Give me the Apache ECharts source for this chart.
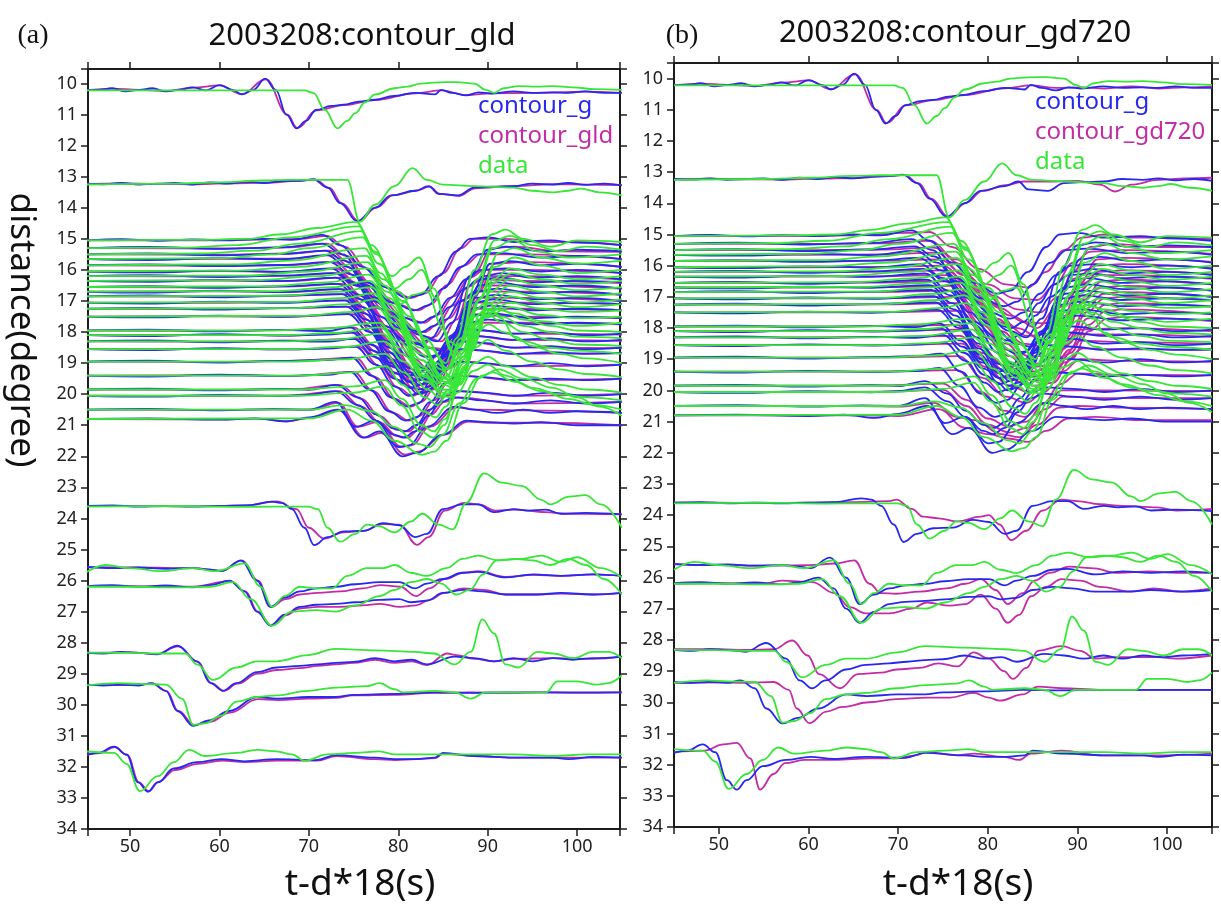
<!DOCTYPE html>
<html>
<head>
<meta charset="utf-8">
<title>2003208 contour comparison</title>
<script src="https://cdn.jsdelivr.net/npm/echarts@6/dist/echarts.min.js"></script>
<style>
  html, body { margin: 0; padding: 0; background: #fff; }
  #chart { width: 1221px; height: 904px; }
</style>
</head>
<body>
<div id="chart"></div>
<script>
// station distance (degree) of every trace, top to bottom
const stations = [10.25, 13.25,
  15.05, 15.3, 15.5, 15.65, 15.85, 16.05, 16.2, 16.35, 16.55, 16.7, 16.85, 17.05,
  17.25, 17.5, 17.95, 18.1, 18.3, 18.55, 18.95, 19.4, 19.85, 20.05, 20.5, 20.8,
  23.6, 25.6, 26.2, 28.3, 29.4, 31.6];

const xTicks = [50, 60, 70, 80, 90, 100];

// contour_g synthetics (blue), same in both panels; points are [t-d*18, distance]
const contourG = [
  [[45,10.21],[46.5,10.2],[48,10.15],[49.5,10.25],[51,10.2],[52.5,10.15],[54,10.25],[55.5,10.2],[57,10.12],[58.5,10.22],[60,10.05],[61.5,10.2],[62.5,10.35],[63.8,10.2],[65.1,9.84],[66.3,10.2],[67.5,11.0],[68.6,11.44],[69.7,11.2],[70.8,10.85],[72.5,10.72],[73.9,10.68],[75.6,10.58],[77.4,10.52],[79.5,10.4],[81.9,10.3],[84.1,10.35],[84.8,10.2],[86,10.3],[87.6,10.38],[89,10.28],[90.5,10.32],[92.9,10.25],[95,10.3],[97.3,10.28],[99,10.3],[100.9,10.25],[103,10.3],[105,10.3]],
  [[45,13.22],[47,13.24],[49,13.2],[51,13.25],[53,13.22],[55,13.2],[57,13.25],[59,13.18],[61,13.22],[63,13.16],[65,13.2],[67,13.14],[69,13.13],[70.5,13.08],[72.1,13.35],[73.5,13.85],[75.4,14.43],[77.4,14.0],[79.2,13.6],[81.9,13.45],[83.4,13.3],[84.5,13.55],[86.7,13.6],[88.5,13.35],[90.5,13.32],[92.9,13.3],[95,13.22],[97.3,13.25],[99,13.2],[101,13.26],[103,13.22],[105,13.28]],
  [[45,15.05],[49,15.01],[53,15.06],[57,15.02],[61,15.05],[65,15.0],[68,15.03],[71.5,14.87],[73.5,15.2],[76,15.9],[78.5,16.55],[81,16.9],[82.5,16.8],[84.5,16.2],[86.5,15.4],[88,15.0],[90,14.95],[93,15.1],[97,15.05],[100,15.12],[105,15.2]],
  [[45,15.3],[52,15.26],[60,15.32],[67,15.27],[71.5,15.15],[73.8,15.5],[76.5,16.5],[79.5,17.5],[82.5,18.1],[84.3,18.3],[86,17.7],[88,16.2],[90,15.35],[92,15.25],[96,15.4],[100,15.35],[105,15.4]],
  [[45,15.5],[52,15.47],[60,15.53],[67,15.48],[71.8,15.38],[74,15.7],[76.5,16.4],[79.3,17.05],[81.8,17.3],[83.3,17.15],[85,16.6],[87,15.9],[88.8,15.5],[91,15.45],[96,15.6],[100,15.55],[105,15.65]],
  [[45,15.65],[52,15.68],[60,15.62],[67,15.66],[72,15.52],[74.3,15.9],[77.3,17.0],[80.3,17.9],[83.2,18.5],[84.8,18.6],[86.5,18.0],[88.5,16.8],[90.3,15.8],[92.5,15.72],[96,15.85],[100,15.8],[105,15.9]],
  [[45,15.85],[52,15.82],[60,15.88],[67,15.84],[72.3,15.75],[74.8,16.15],[77.5,16.9],[80.2,17.5],[82.5,17.7],[84,17.5],[85.8,16.9],[87.6,16.3],[89.3,16.0],[92,15.95],[96,16.05],[100,16.0],[105,16.1]],
  [[45,16.05],[52,16.08],[60,16.02],[67,16.06],[72.5,15.95],[75,16.4],[78,17.5],[80.8,18.4],[83,18.8],[84.3,18.75],[86,18.1],[88,17.0],[89.5,16.2],[91.5,16.1],[95,16.25],[100,16.2],[105,16.3]],
  [[45,16.2],[52,16.17],[60,16.23],[67,16.18],[72.8,16.1],[75.3,16.5],[78,17.25],[80.6,17.85],[82.6,18.0],[84,17.8],[85.7,17.2],[87.4,16.6],[89,16.3],[91.5,16.25],[95,16.4],[100,16.35],[105,16.4]],
  [[45,16.35],[52,16.38],[60,16.32],[67,16.36],[73,16.25],[75.6,16.8],[78.5,17.9],[81.2,18.8],[83,19.2],[84.2,19.1],[85.8,18.4],[87.6,17.2],[89,16.5],[91,16.4],[95,16.55],[100,16.5],[105,16.6]],
  [[45,16.55],[52,16.52],[60,16.58],[67,16.53],[73.2,16.45],[75.8,16.95],[78.5,17.8],[80.9,18.3],[82.3,18.4],[83.7,18.2],[85.3,17.6],[87,17.0],[88.6,16.7],[91,16.6],[95,16.75],[100,16.7],[105,16.8]],
  [[45,16.7],[52,16.73],[60,16.67],[67,16.71],[73.5,16.62],[76,17.2],[78.8,18.3],[81.2,19.15],[82.6,19.45],[83.8,19.35],[85.4,18.7],[87.2,17.6],[88.6,16.9],[90.8,16.8],[95,16.95],[100,16.9],[105,17.0]],
  [[45,16.85],[52,16.82],[60,16.88],[67,16.83],[73.7,16.78],[76.2,17.4],[79,18.5],[81.3,19.3],[82.5,19.55],[83.7,19.45],[85.2,18.8],[87,17.8],[88.4,17.05],[90.6,16.95],[95,17.1],[100,17.05],[105,17.1]],
  [[45,17.05],[52,17.08],[60,17.02],[67,17.06],[74,16.98],[76.4,17.6],[79,18.65],[81.3,19.45],[82.4,19.7],[83.6,19.6],[85,19.0],[86.8,18.0],[88.2,17.25],[90.4,17.15],[95,17.3],[100,17.25],[105,17.3]],
  [[45,17.25],[52,17.22],[60,17.28],[67,17.23],[74.2,17.18],[76.6,17.8],[79.1,18.85],[81.2,19.6],[82.3,19.85],[83.5,19.75],[84.9,19.15],[86.6,18.2],[88,17.45],[90.2,17.4],[95,17.55],[100,17.5],[105,17.55]],
  [[45,17.5],[52,17.53],[60,17.47],[67,17.51],[74.4,17.42],[76.8,18.0],[79.2,19.0],[81.1,19.75],[82.2,20.0],[83.4,19.9],[84.8,19.3],[86.4,18.4],[87.8,17.7],[90,17.6],[95,17.75],[100,17.7],[105,17.75]],
  [[45,17.95],[52,17.92],[60,17.98],[67,17.93],[72,17.97],[74.6,17.85],[77,18.4],[79.3,19.1],[81.2,19.4],[82.4,19.3],[84,18.8],[85.8,18.2],[87.2,17.9],[89.5,17.95],[93,18.05],[97,18.0],[101,18.1],[105,18.05]],
  [[45,18.1],[52,18.13],[60,18.07],[67,18.11],[72,18.08],[74.8,18.02],[77.2,18.6],[79.5,19.3],[81.3,19.6],[82.5,19.5],[84.1,19.0],[85.8,18.4],[87.2,18.1],[89.5,18.15],[93,18.25],[97,18.2],[101,18.3],[105,18.25]],
  [[45,18.3],[52,18.27],[60,18.33],[67,18.28],[72,18.31],[75,18.22],[77.4,18.8],[79.6,19.5],[81.3,19.8],[82.5,19.7],[84.1,19.2],[85.7,18.6],[87,18.3],[89.5,18.35],[93,18.5],[97,18.45],[101,18.55],[105,18.5]],
  [[45,18.55],[52,18.58],[60,18.52],[67,18.56],[72,18.53],[75.2,18.47],[77.5,19.05],[79.6,19.75],[81.2,20.05],[82.4,19.95],[84,19.45],[85.6,18.85],[86.9,18.55],[89.5,18.6],[93,18.7],[97,18.65],[101,18.7],[105,18.68]],
  [[45,18.95],[52,18.92],[60,18.98],[67,18.93],[72,18.9],[74.8,18.82],[77,19.4],[79.2,20.1],[81,20.4],[82.2,20.3],[83.8,19.8],[85.4,19.2],[86.8,18.95],[89.5,19.0],[93,19.1],[97,19.0],[101,19.1],[105,19.05]],
  [[45,19.4],[52,19.43],[60,19.37],[67,19.41],[72,19.38],[74.6,19.28],[76.8,19.85],[79,20.55],[80.8,20.85],[82,20.75],[83.6,20.25],[85.2,19.65],[86.6,19.4],[89.5,19.45],[93,19.55],[97,19.5],[101,19.55],[105,19.5]],
  [[45,19.85],[52,19.82],[60,19.88],[67,19.83],[70,19.86],[73,19.7],[75.5,20.1],[77.5,20.65],[79.5,21.1],[80.7,21.2],[82,21.0],[83.5,20.5],[85,20.05],[86.5,19.9],[89.5,19.95],[93,20.05],[97,19.95],[101,20.05],[105,20.0]],
  [[45,20.05],[52,20.08],[60,20.02],[67,20.06],[70,20.02],[73,19.9],[75.5,20.35],[77.5,20.85],[79.5,21.3],[80.6,21.4],[81.9,21.2],[83.3,20.7],[84.8,20.25],[86.3,20.1],[89.5,20.2],[93,20.3],[97,20.2],[101,20.3],[105,20.25]],
  [[45,20.5],[52,20.47],[60,20.52],[66,20.48],[70,20.5],[73,20.25],[75.2,21.05],[77.4,20.85],[80.1,21.7],[81.2,21.65],[83.2,21.05],[86.3,20.4],[88.5,20.5],[91,20.6],[94,20.5],[97,20.6],[100,20.55],[105,20.6]],
  [[45,20.8],[52,20.78],[60,20.82],[64,20.78],[67.5,20.88],[70,20.75],[73.2,20.5],[76.1,21.4],[77.9,21.2],[80.5,22.0],[82,21.9],[85,21.3],[87.6,20.85],[90,20.9],[93,20.95],[96,20.9],[100,21.0],[105,21.0]],
  [[45,23.6],[48,23.58],[51,23.62],[54,23.6],[57,23.62],[60,23.6],[63,23.58],[65.9,23.46],[67,23.5],[68.1,23.7],[69.5,24.3],[70.6,24.86],[72.1,24.6],[73.9,24.42],[76.1,24.4],[78.3,24.15],[80.1,24.22],[81.9,24.6],[83.2,24.5],[85,23.7],[87.2,23.55],[88.9,23.55],[90.7,23.8],[92.9,23.7],[94.5,23.75],[96.5,23.72],[98.2,23.85],[101,23.82],[105,23.87]],
  [[45,25.56],[48,25.6],[51,25.58],[54,25.62],[57,25.6],[59,25.65],[60.2,25.7],[62.4,25.36],[64.2,26.0],[65.7,26.85],[67.3,26.55],[69,26.35],[70.8,26.25],[73,26.2],[75.2,26.12],[77.9,26.05],[80.1,26.05],[81.9,26.25],[83.2,26.1],[85,25.95],[87.2,25.75],[88.9,25.72],[92,25.9],[95.1,25.8],[98.2,25.85],[101.8,25.8],[105,25.85]],
  [[45,26.18],[48,26.15],[51,26.2],[54,26.16],[57,26.22],[59,26.15],[61.1,26.0],[62.8,26.35],[64.2,27.0],[65.7,27.45],[67.3,27.1],[69,26.85],[70.8,26.78],[73,26.75],[75.2,26.7],[77.9,26.62],[80.1,26.6],[81.4,26.7],[83.2,26.65],[85,26.4],[87.2,26.3],[89.4,26.35],[92,26.45],[95.5,26.45],[98.2,26.4],[101.8,26.45],[105,26.4]],
  [[45,28.32],[47,28.35],[49,28.3],[51,28.33],[53,28.38],[55.3,28.1],[57.5,28.6],[59,29.3],[60.4,29.55],[61.9,29.3],[64.2,28.95],[66.4,28.8],[69,28.75],[71,28.7],[73,28.65],[75,28.62],[77.4,28.5],[79.6,28.6],[81.5,28.55],[83.2,28.7],[86.3,28.45],[88.5,28.5],[90.7,28.6],[92.9,28.5],[95,28.6],[97.3,28.5],[99.5,28.55],[101.8,28.5],[105,28.45]],
  [[45,29.35],[47,29.38],[49,29.35],[51,29.38],[52.4,29.3],[54,29.55],[55.3,30.2],[57.1,30.68],[58.8,30.5],[61.1,30.2],[64.2,29.75],[66.5,29.8],[69.9,29.75],[73,29.75],[75,29.68],[79.6,29.65],[84,29.6],[88,29.62],[92,29.6],[96,29.6],[100,29.6],[105,29.6]],
  [[45,31.62],[46.5,31.55],[48.2,31.35],[49.6,31.6],[50.9,32.5],[52,32.8],[53.1,32.5],[54.9,32.05],[57.5,31.85],[60.2,31.75],[62.8,31.82],[66.4,31.75],[70.8,31.78],[73,31.62],[77.4,31.7],[79.6,31.75],[82,31.75],[84.1,31.7],[85,31.55],[88.5,31.65],[92.9,31.7],[97.3,31.7],[99,31.75],[101.8,31.68],[105,31.7]]
];

// contour_gld synthetics (magenta, panel a)
const contourGld = [
  [[45,10.22],[48,10.16],[51,10.2],[54,10.24],[57,10.13],[60,10.06],[62.5,10.34],[65.2,9.86],[67.6,11.0],[68.7,11.43],[70.9,10.86],[73.9,10.69],[77.4,10.53],[81.9,10.31],[84.8,10.22],[87.6,10.37],[90.5,10.31],[95,10.3],[100.9,10.26],[105,10.3]],
  [[45,13.23],[49,13.21],[53,13.23],[57,13.24],[61,13.21],[65,13.19],[69,13.13],[70.7,13.09],[72.3,13.36],[73.7,13.86],[75.6,14.43],[77.6,13.98],[79.4,13.6],[82,13.45],[83.5,13.32],[84.7,13.55],[86.8,13.62],[88.6,13.37],[92.9,13.3],[97.3,13.24],[101,13.25],[105,13.27]],
  [[45,15.05],[55,15.05],[65,15.02],[69,15.0],[72,14.9],[74,15.25],[76.5,15.95],[79,16.6],[81.5,16.9],[83,16.75],[85,16.1],[87,15.3],[88.5,15.0],[92,15.0],[96,15.1],[100,15.1],[105,15.2]],
  [[45,15.3],[60,15.31],[68,15.27],[72,15.15],[74.2,15.55],[77,16.55],[80,17.55],[83,18.15],[84.8,18.3],[86.5,17.6],[88.5,16.1],[90.5,15.3],[93,15.25],[98,15.4],[105,15.42]],
  [[45,15.5],[60,15.51],[68,15.47],[72.3,15.38],[74.5,15.75],[77,16.45],[79.8,17.1],[82.2,17.3],[83.7,17.1],[85.4,16.5],[87.4,15.85],[89.2,15.5],[94,15.5],[105,15.65]],
  [[45,15.65],[60,15.64],[68,15.64],[72.5,15.52],[74.8,15.95],[77.8,17.05],[80.8,17.95],[83.6,18.5],[85.2,18.55],[87,17.9],[89,16.7],[90.8,15.8],[94,15.75],[105,15.9]],
  [[45,15.85],[60,15.86],[68,15.84],[72.8,15.75],[75.3,16.2],[78,16.95],[80.7,17.55],[82.9,17.7],[84.4,17.45],[86.2,16.85],[88,16.25],[89.7,16.0],[94,16.0],[105,16.1]],
  [[45,16.05],[60,16.04],[68,16.06],[73,15.95],[75.5,16.45],[78.5,17.55],[81.3,18.45],[83.4,18.8],[84.8,18.7],[86.5,18.0],[88.5,16.9],[90,16.2],[94,16.2],[105,16.3]],
  [[45,16.2],[60,16.21],[68,16.18],[73.3,16.1],[75.8,16.55],[78.5,17.3],[81.1,17.9],[83,18.0],[84.4,17.75],[86.1,17.15],[87.8,16.55],[89.4,16.3],[94,16.35],[105,16.42]],
  [[45,16.35],[60,16.34],[68,16.36],[73.5,16.25],[76,16.85],[79,17.95],[81.7,18.85],[83.4,19.2],[84.7,19.05],[86.3,18.3],[88,17.1],[89.5,16.5],[94,16.5],[105,16.6]],
  [[45,16.55],[60,16.56],[68,16.53],[73.7,16.45],[76.3,17.0],[79,17.85],[81.3,18.3],[82.7,18.4],[84.1,18.15],[85.7,17.55],[87.4,16.95],[89,16.7],[94,16.7],[105,16.8]],
  [[45,16.7],[60,16.69],[68,16.71],[74,16.62],[76.5,17.25],[79.3,18.35],[81.7,19.2],[83,19.45],[84.3,19.3],[85.9,18.6],[87.6,17.5],[89.1,16.9],[94,16.9],[105,17.0]],
  [[45,16.85],[60,16.86],[68,16.83],[74.2,16.78],[76.7,17.45],[79.5,18.55],[81.8,19.35],[82.9,19.55],[84.2,19.4],[85.7,18.7],[87.4,17.7],[88.9,17.05],[94,17.05],[105,17.1]],
  [[45,17.05],[60,17.06],[68,17.03],[74.5,16.98],[76.9,17.65],[79.5,18.7],[81.8,19.5],[82.8,19.7],[84.1,19.55],[85.5,18.9],[87.2,17.9],[88.7,17.25],[94,17.25],[105,17.3]],
  [[45,17.25],[60,17.26],[68,17.23],[74.7,17.18],[77.1,17.85],[79.6,18.9],[81.7,19.65],[82.7,19.85],[84,19.7],[85.4,19.05],[87,18.1],[88.5,17.45],[94,17.5],[105,17.55]],
  [[45,17.5],[60,17.49],[68,17.51],[74.9,17.42],[77.3,18.05],[79.7,19.05],[81.6,19.8],[82.6,20.0],[83.9,19.85],[85.3,19.2],[86.8,18.3],[88.3,17.7],[94,17.7],[105,17.75]],
  [[45,17.95],[60,17.96],[68,17.93],[75,17.85],[77.4,18.45],[79.7,19.15],[81.6,19.4],[82.8,19.25],[84.4,18.75],[86.2,18.15],[87.6,17.9],[93,18.05],[105,18.08]],
  [[45,18.1],[60,18.09],[68,18.11],[75.2,18.02],[77.6,18.65],[79.9,19.35],[81.7,19.6],[82.9,19.45],[84.5,18.95],[86.2,18.35],[87.6,18.1],[93,18.25],[105,18.28]],
  [[45,18.3],[60,18.31],[68,18.28],[75.4,18.22],[77.8,18.85],[80,19.55],[81.7,19.8],[82.9,19.65],[84.5,19.15],[86.1,18.55],[87.4,18.3],[93,18.5],[105,18.52]],
  [[45,18.55],[60,18.54],[68,18.56],[75.6,18.47],[77.9,19.1],[80,19.8],[81.6,20.05],[82.8,19.9],[84.4,19.4],[86,18.8],[87.3,18.55],[93,18.7],[105,18.68]],
  [[45,18.95],[60,18.96],[68,18.93],[75.2,18.82],[77.4,19.45],[79.6,20.15],[81.4,20.4],[82.6,20.25],[84.2,19.75],[85.8,19.15],[87.2,18.95],[93,19.1],[105,19.05]],
  [[45,19.4],[60,19.39],[68,19.41],[75,19.28],[77.2,19.9],[79.4,20.6],[81.2,20.85],[82.4,20.7],[84,20.2],[85.6,19.6],[87,19.4],[93,19.55],[105,19.5]],
  [[45,19.85],[60,19.86],[68,19.84],[73.4,19.7],[75.9,20.15],[77.9,20.7],[79.9,21.15],[81.1,21.2],[82.4,20.95],[83.9,20.45],[85.4,20.05],[87,19.9],[93,20.05],[105,20.0]],
  [[45,20.05],[60,20.06],[68,20.04],[73.4,19.9],[75.9,20.4],[77.9,20.9],[79.9,21.35],[81,21.4],[82.3,21.15],[83.7,20.65],[85.2,20.25],[86.7,20.1],[93,20.3],[105,20.25]],
  [[45,20.5],[60,20.51],[66,20.49],[70.2,20.5],[73.3,20.28],[75.5,21.05],[77.7,20.9],[80.4,21.7],[81.5,21.65],[83.5,21.05],[86.6,20.42],[88.8,20.5],[94,20.52],[105,20.6]],
  [[45,20.8],[60,20.81],[64,20.79],[67.7,20.87],[70.2,20.76],[73.4,20.52],[76.3,21.4],[78.1,21.25],[80.8,21.95],[82.2,21.85],[85.2,21.3],[87.8,20.88],[90,20.92],[96,20.92],[105,21.0]],
  [[45,23.6],[50,23.6],[55,23.61],[60,23.6],[63,23.58],[66.4,23.45],[68.6,23.7],[70,24.3],[71.7,24.65],[73.9,24.45],[76.1,24.4],[78.3,24.18],[80.1,24.2],[82.1,24.85],[83.4,24.6],[85.2,23.75],[87.4,23.5],[89,23.55],[90.9,23.75],[93,23.72],[96.5,23.8],[98.5,23.85],[101,23.85],[105,23.87]],
  [[45,25.57],[51,25.58],[57,25.6],[60.3,25.68],[62.5,25.35],[64.3,26.0],[65.8,26.85],[67.4,26.6],[69,26.45],[71,26.4],[73.5,26.35],[76,26.25],[78,26.15],[80.2,26.2],[82,26.5],[83.5,26.25],[85.2,25.95],[87.3,25.75],[89,25.7],[92,25.88],[95.1,25.82],[98.2,25.85],[101.8,25.8],[105,25.85]],
  [[45,26.18],[51,26.19],[57,26.2],[61.2,26.02],[62.9,26.35],[64.3,27.0],[65.8,27.45],[67.4,27.12],[69,26.9],[71,26.85],[73.5,26.85],[76,26.8],[78,26.75],[80.2,26.85],[82,26.8],[83.5,26.62],[85.2,26.4],[87.3,26.25],[89.5,26.3],[92,26.45],[95.5,26.45],[98.2,26.42],[101.8,26.45],[105,26.4]],
  [[45,28.33],[50,28.31],[53,28.37],[55.4,28.12],[57.6,28.62],[59.1,29.3],[60.5,29.55],[62,29.32],[64.3,29.0],[66.4,28.88],[69,28.82],[71,28.75],[73,28.7],[75,28.65],[77.4,28.55],[79.6,28.65],[81.5,28.6],[83.2,28.72],[85.5,28.35],[86.5,28.4],[88.5,28.52],[90.7,28.6],[93,28.52],[97.3,28.5],[101.8,28.52],[105,28.45]],
  [[45,29.36],[48,29.37],[51,29.36],[52.5,29.31],[54.1,29.56],[55.4,30.2],[57.2,30.65],[58.9,30.55],[61.2,30.25],[64.3,29.82],[66.6,29.85],[70,29.8],[73,29.78],[75,29.7],[79.6,29.68],[84,29.62],[88,29.6],[92,29.62],[96,29.6],[100,29.62],[105,29.6]],
  [[45,31.62],[46.6,31.56],[48.3,31.36],[49.7,31.62],[51,32.5],[52.1,32.78],[53.2,32.48],[55,32.1],[57.6,31.9],[60.3,31.8],[62.9,31.85],[66.5,31.8],[70.9,31.8],[73.1,31.65],[77.4,31.75],[79.7,31.78],[82,31.75],[84.1,31.72],[85,31.58],[88.5,31.65],[92.9,31.7],[97.3,31.7],[101.8,31.7],[105,31.7]]
];

// contour_gd720 synthetics (magenta, panel b)
const contourGd720 = [
  [[45,10.22],[48,10.16],[51,10.2],[54,10.24],[57,10.13],[60,10.06],[62.5,10.34],[65.2,9.86],[67.6,11.0],[68.7,11.43],[70.9,10.86],[73.9,10.69],[77.4,10.53],[81.9,10.31],[84.8,10.22],[87.6,10.3],[90.5,10.28],[93,10.32],[96,10.25],[99,10.32],[102,10.28],[105,10.25]],
  [[45,13.23],[49,13.21],[53,13.23],[57,13.24],[61,13.21],[65,13.19],[69,13.13],[70.7,13.09],[72.3,13.36],[73.7,13.86],[75.6,14.43],[77.6,13.98],[79.4,13.6],[82,13.42],[84,13.3],[87.4,13.3],[90,13.28],[92.5,13.4],[94.2,13.62],[96,13.4],[99,13.25],[102,13.2],[105,13.18]],
  [[45,15.05],[55,15.05],[65,15.03],[71,14.95],[73.5,14.92],[76,15.4],[79,16.1],[82,16.6],[84.5,16.7],[86.5,16.2],[88.5,15.5],[90.5,15.1],[93,15.0],[96,15.1],[100,15.1],[105,15.15]],
  [[45,15.3],[60,15.3],[68,15.28],[73.5,15.2],[76.5,15.8],[79.5,16.8],[82.5,17.6],[85.5,18.0],[87.5,17.4],[89.5,16.2],[91.5,15.4],[94,15.3],[99,15.4],[105,15.4]],
  [[45,15.5],[60,15.5],[68,15.48],[74,15.42],[77,15.95],[80,16.6],[83,17.05],[85.5,17.1],[87.5,16.6],[89.5,15.9],[91.5,15.55],[95,15.5],[105,15.62]],
  [[45,15.65],[60,15.65],[68,15.64],[74.3,15.58],[77.3,16.3],[80.3,17.2],[83.3,18.0],[86.2,18.4],[88.2,17.8],[90.2,16.6],[92.2,15.8],[95,15.75],[105,15.88]],
  [[45,15.85],[60,15.85],[68,15.84],[74.6,15.8],[77.5,16.3],[80.5,16.95],[83.3,17.4],[85.8,17.5],[87.8,17.0],[89.8,16.4],[92,16.0],[95,15.95],[105,16.08]],
  [[45,16.05],[60,16.05],[68,16.04],[75,16.0],[78,16.7],[81,17.7],[84,18.5],[86.3,18.6],[88.3,17.9],[90.3,16.8],[92.3,16.2],[95,16.15],[105,16.28]],
  [[45,16.2],[60,16.2],[68,16.19],[75.3,16.15],[78.3,16.7],[81.3,17.35],[84,17.8],[86.3,17.85],[88.3,17.3],[90.3,16.6],[92.5,16.3],[95,16.3],[105,16.42]],
  [[45,16.35],[60,16.35],[68,16.34],[75.5,16.3],[78.5,17.1],[81.5,18.1],[84.5,18.9],[86.7,18.9],[88.7,18.1],[90.7,17.1],[92.7,16.5],[95,16.45],[105,16.6]],
  [[45,16.55],[60,16.55],[68,16.54],[75.8,16.5],[78.8,17.15],[81.8,17.85],[84.4,18.25],[86.6,18.2],[88.6,17.6],[90.6,16.95],[92.8,16.7],[95,16.65],[105,16.8]],
  [[45,16.7],[60,16.7],[68,16.69],[76,16.65],[79,17.5],[82,18.5],[84.7,19.25],[86.9,19.2],[88.9,18.4],[90.9,17.4],[92.9,16.9],[95,16.85],[105,17.0]],
  [[45,16.85],[60,16.85],[68,16.84],[76.2,16.8],[79.2,17.7],[82.2,18.7],[84.8,19.4],[87,19.3],[89,18.5],[91,17.5],[93,17.05],[95,17.0],[105,17.12]],
  [[45,17.05],[60,17.05],[68,17.04],[76.4,17.0],[79.4,17.9],[82.4,18.9],[84.9,19.55],[87.1,19.45],[89.1,18.7],[91.1,17.7],[93.1,17.25],[95,17.2],[105,17.32]],
  [[45,17.25],[60,17.25],[68,17.24],[76.6,17.2],[79.6,18.1],[82.6,19.1],[85,19.7],[87.2,19.6],[89.2,18.8],[91.2,17.9],[93.2,17.45],[95,17.4],[105,17.55]],
  [[45,17.5],[60,17.5],[68,17.49],[76.8,17.45],[79.8,18.3],[82.8,19.3],[85.1,19.85],[87.3,19.75],[89.3,19.0],[91.3,18.1],[93.3,17.7],[95,17.65],[105,17.78]],
  [[45,17.95],[60,17.95],[68,17.94],[76.5,17.9],[79.2,18.6],[81.8,19.2],[84,19.4],[86,19.1],[88,18.5],[90,18.05],[95,18.0],[105,18.1]],
  [[45,18.1],[60,18.1],[68,18.09],[76.7,18.05],[79.4,18.8],[82,19.4],[84.2,19.6],[86.2,19.3],[88.2,18.7],[90.2,18.2],[95,18.2],[105,18.28]],
  [[45,18.3],[60,18.3],[68,18.29],[76.9,18.25],[79.6,19.0],[82.2,19.6],[84.4,19.8],[86.4,19.5],[88.4,18.9],[90.4,18.4],[95,18.45],[105,18.5]],
  [[45,18.55],[60,18.55],[68,18.54],[77.1,18.5],[79.8,19.25],[82.4,19.85],[84.6,20.05],[86.6,19.7],[88.6,19.1],[90.6,18.65],[95,18.68],[105,18.7]],
  [[45,18.95],[60,18.95],[68,18.94],[76.8,18.9],[79.4,19.6],[82,20.2],[84.3,20.4],[86.3,20.05],[88.3,19.4],[90.3,19.0],[95,19.05],[105,19.08]],
  [[45,19.4],[60,19.4],[68,19.39],[76.6,19.35],[79.2,20.05],[81.8,20.65],[84.1,20.85],[86.1,20.45],[88.1,19.8],[90.1,19.45],[95,19.5],[105,19.52]],
  [[45,19.85],[60,19.85],[68,19.84],[75,19.78],[77.6,20.3],[80,20.9],[82.3,21.15],[84.3,21.0],[86.3,20.4],[88.3,20.0],[93,20.0],[105,20.02]],
  [[45,20.05],[60,20.05],[68,20.04],[75,19.98],[77.6,20.5],[80,21.1],[82.4,21.35],[84.4,21.2],[86.4,20.6],[88.4,20.2],[93,20.25],[105,20.25]],
  [[45,20.5],[60,20.5],[66,20.5],[70,20.52],[74,20.4],[76.5,20.85],[78.5,20.95],[81.5,21.4],[83.5,21.5],[85.5,21.1],[88,20.55],[90,20.5],[95,20.55],[105,20.6]],
  [[45,20.8],[60,20.8],[66,20.8],[70,20.82],[74.5,20.6],[77.5,21.2],[80,21.4],[82.5,21.55],[84.5,21.65],[86.5,21.3],[89,20.9],[92,20.85],[97,20.95],[105,20.95]],
  [[45,23.6],[50,23.6],[55,23.61],[60,23.6],[65,23.58],[69,23.55],[69.8,23.5],[71.5,23.8],[72.8,24.05],[74.5,24.1],[76.6,24.2],[79.2,24.05],[80.1,24.0],[81.3,24.3],[82.6,24.8],[84.3,24.5],[86.1,23.85],[88.2,23.5],[90,23.55],[92.5,23.65],[95,23.7],[98.9,23.75],[101,23.85],[105,23.8]],
  [[45,25.58],[50,25.6],[55,25.62],[60,25.6],[63,25.55],[65.1,25.45],[66.8,26.2],[68.1,26.5],[69.8,26.52],[72.4,26.45],[75.4,26.35],[77.5,26.2],[79.2,26.05],[80.9,26.4],[82.2,26.85],[83.9,26.5],[85.2,26.1],[86.9,25.85],[89.1,25.65],[91.5,25.7],[94.6,25.85],[98,25.8],[101,25.85],[105,25.85]],
  [[45,26.2],[50,26.18],[55,26.2],[57,26.1],[60.4,26.15],[62.9,26.5],[64.6,26.95],[66.4,27.15],[69,27.15],[71.5,27.0],[73.2,26.8],[75.8,26.9],[77.5,26.85],[79.2,26.55],[80.9,27.0],[82.2,27.45],[83.5,27.2],[84.8,26.6],[86.5,26.3],[88.2,26.05],[90.3,26.1],[92.5,26.3],[95.9,26.45],[98.5,26.35],[101.5,26.45],[105,26.35]],
  [[45,28.3],[50,28.3],[53,28.32],[56.1,28.3],[58.2,28.02],[59.9,28.5],[61.2,29.1],[63.5,29.55],[65.5,29.1],[68.1,29.05],[69.8,28.95],[72.4,28.9],[74.5,28.75],[76.6,28.85],[78.4,28.4],[80.1,28.6],[81.8,29.0],[82.8,29.25],[84.3,28.9],[85.6,28.35],[88.2,28.2],[90.3,28.35],[92,28.6],[94.6,28.55],[98.9,28.55],[101,28.6],[105,28.5]],
  [[45,29.38],[50,29.36],[53,29.38],[56.1,29.35],[57.8,29.6],[58.7,30.2],[60.1,30.67],[62,30.3],[63.8,30.15],[66.8,30.0],[69.8,29.9],[73.2,29.85],[75.8,29.85],[78.4,29.7],[80.1,29.85],[81.3,29.95],[83.9,29.75],[85.6,29.5],[88.2,29.55],[92.5,29.6],[96,29.6],[100,29.6],[105,29.6]],
  [[45,31.6],[48.4,31.55],[50.5,31.35],[52,31.3],[53.5,31.8],[54.6,32.8],[56.1,32.3],[57.4,31.95],[59.5,31.85],[62.9,31.85],[66.8,31.8],[69.8,31.8],[71.9,31.7],[73.2,31.6],[76.6,31.7],[78.5,31.65],[81.8,31.75],[83.5,31.85],[84.8,31.65],[88.2,31.55],[92.5,31.7],[96,31.7],[100,31.7],[105,31.65]]
];

// observed data (green), same in both panels
const dataTraces = [
  [[45,10.22],[60,10.22],[69.5,10.22],[70.5,10.3],[71.8,10.85],[73.2,11.44],[74.3,11.2],[75.2,10.95],[76.3,10.6],[77.4,10.35],[79.6,10.15],[81,10.1],[82.5,10.0],[84.5,9.96],[86.5,9.95],[88.5,10.0],[89.8,10.2],[90.7,10.3],[91.8,10.15],[93.5,10.08],[95.5,10.1],[97.3,10.08],[99.5,10.12],[102,10.18],[105,10.2]],
  [[45,13.25],[55,13.22],[60,13.18],[65,13.12],[68,13.1],[74.3,13.1],[75.7,14.45],[77.4,13.9],[79.6,13.3],[81.6,12.72],[83.2,13.1],[85,13.25],[88.5,13.3],[92.9,13.35],[95,13.45],[97.3,13.5],[99,13.45],[100.4,13.38],[102.5,13.5],[105,13.6]],
  [[45,15.05],[58,15.03],[63,15.0],[67,14.85],[71,14.65],[75.3,14.45],[77,15.2],[80,16.7],[83,18.2],[85.3,19.0],[86.5,18.2],[88.5,16.0],[90.5,14.85],[92,14.7],[94,15.0],[97,15.25],[100,15.05],[105,15.1]],
  [[45,15.3],[56,15.28],[62,15.2],[68,14.95],[75.6,14.6],[77.3,15.4],[80.5,17.0],[83.5,18.5],[85.6,19.2],[86.8,18.4],[88.8,16.3],[90.8,15.05],[92.5,14.9],[95,15.2],[98,15.4],[101,15.25],[105,15.35]],
  [[45,15.5],[58,15.47],[64,15.38],[69,15.15],[75.8,14.75],[77.6,15.5],[79.3,16.2],[80.8,15.9],[82.3,15.6],[84,16.6],[85.7,18.3],[86.9,18.5],[88.6,16.8],[90.6,15.3],[92.8,15.05],[95.5,15.4],[99,15.6],[105,15.5]],
  [[45,15.65],[60,15.62],[66,15.5],[70,15.3],[76,14.95],[77.8,15.8],[81.3,17.5],[84.3,19.0],[86,19.45],[87.2,18.8],[89.2,16.9],[91.2,15.45],[93,15.3],[96,15.6],[100,15.8],[105,15.7]],
  [[45,15.85],[62,15.82],[68,15.7],[76.2,15.3],[78,16.1],[79.6,16.6],[81.2,16.3],[82.6,16.0],[84.2,16.9],[85.9,18.6],[87.1,18.7],[88.9,17.0],[90.8,15.9],[93,15.6],[96,15.85],[100,16.1],[105,16.0]],
  [[45,16.05],[62,16.02],[69,15.9],[76.4,15.55],[78.3,16.3],[81.8,17.9],[84.8,19.2],[86.1,19.55],[87.3,19.0],[89,17.6],[90.6,16.3],[92.5,15.95],[96,16.15],[100,16.3],[105,16.2]],
  [[45,16.2],[63,16.18],[70,16.05],[76.5,15.75],[78.5,16.5],[80.2,17.1],[81.7,16.8],[83.2,16.7],[85,17.9],[86.4,18.9],[87.6,18.6],[89.2,17.4],[90.7,16.4],[92.7,16.1],[96,16.3],[100,16.45],[105,16.35]],
  [[45,16.35],[64,16.33],[71,16.2],[76.6,15.95],[78.7,16.7],[82.2,18.3],[85.1,19.45],[86.2,19.65],[87.4,19.1],[89,17.8],[90.3,16.7],[92.5,16.3],[96,16.5],[100,16.65],[105,16.55]],
  [[45,16.55],[65,16.53],[72,16.4],[76.7,16.15],[78.9,16.9],[82.4,18.5],[85.2,19.5],[86.3,19.7],[87.5,19.15],[89,18.0],[90.2,16.9],[92.5,16.5],[96,16.7],[100,16.85],[105,16.75]],
  [[45,16.7],[66,16.68],[73,16.55],[76.8,16.35],[79,17.1],[82.5,18.7],[85.2,19.6],[86.3,19.75],[87.5,19.2],[88.8,18.1],[90,17.1],[92.5,16.7],[96,16.9],[100,17.05],[105,16.95]],
  [[45,16.85],[67,16.83],[73.5,16.7],[77,16.55],[79.2,17.3],[82.6,18.9],[85.1,19.7],[86.2,19.8],[87.4,19.3],[88.6,18.3],[89.8,17.3],[92.5,16.85],[96,17.05],[100,17.2],[105,17.1]],
  [[45,17.05],[68,17.03],[74,16.9],[77.2,16.75],[79.4,17.5],[82.7,19.1],[85,19.85],[86.1,19.9],[87.3,19.4],[88.5,18.4],[89.7,17.45],[92.5,17.05],[96,17.25],[100,17.35],[105,17.3]],
  [[45,17.25],[68,17.23],[74.5,17.1],[77.4,16.95],[79.6,17.7],[82.8,19.3],[84.9,19.95],[86,20.0],[87.2,19.5],[88.4,18.5],[89.6,17.55],[92.5,17.2],[96,17.45],[100,17.55],[105,17.5]],
  [[45,17.5],[69,17.48],[75,17.35],[77.6,17.2],[79.8,17.9],[83,19.45],[84.9,20.05],[85.9,20.1],[87.1,19.6],[88.3,18.6],[89.5,17.55],[91,17.25],[93,17.4],[96,17.65],[100,17.8],[105,17.7]],
  [[45,17.95],[66,17.95],[72,17.88],[77.8,17.7],[80,18.3],[82.8,19.2],[84.3,19.45],[85.4,19.2],[87,18.2],[88.6,17.3],[89.8,17.05],[91.5,17.3],[94,17.6],[97,17.8],[100,17.95],[105,18.0]],
  [[45,18.1],[67,18.1],[73,18.03],[78,17.85],[80.2,18.5],[83,19.4],[84.4,19.65],[85.5,19.4],[87,18.4],[88.6,17.5],[89.9,17.25],[91.6,17.5],[94,17.8],[97,18.0],[100,18.15],[105,18.2]],
  [[45,18.3],[67,18.3],[73,18.25],[78.2,18.05],[80.4,18.7],[83.2,19.6],[84.5,19.85],[85.6,19.6],[87.1,18.6],[88.7,17.7],[90,17.45],[91.7,17.7],[94,18.0],[97,18.25],[100,18.4],[105,18.45]],
  [[45,18.55],[68,18.55],[74,18.48],[78.4,18.3],[80.6,18.95],[83.3,19.85],[84.6,20.1],[85.7,19.85],[87.2,18.9],[88.8,18.0],[90.1,17.75],[91.8,18.0],[94,18.3],[97,18.5],[100,18.6],[105,18.7]],
  [[45,18.95],[68,18.95],[74,18.88],[78.5,18.7],[80.6,19.3],[83,20.1],[84.4,20.35],[85.5,20.0],[87.2,18.8],[88.8,17.75],[90.3,17.3],[91.5,17.55],[93,18.15],[95,18.45],[98,18.7],[101,18.85],[105,19.0]],
  [[45,19.4],[69,19.4],[75,19.3],[78.6,19.1],[80.5,19.7],[82.8,20.55],[84.2,20.75],[85.3,20.4],[87,19.3],[88.6,18.5],[90,18.25],[92,18.6],[95,18.95],[98,19.2],[101,19.35],[105,19.45]],
  [[45,19.85],[69,19.85],[75,19.75],[78.5,19.55],[80.4,20.15],[82.6,21.0],[84,21.2],[85.2,20.8],[86.8,19.7],[88.5,19.0],[90,18.8],[92,19.1],[95,19.45],[98,19.7],[101,19.85],[105,19.95]],
  [[45,20.05],[69,20.05],[75,19.95],[78.4,19.75],[80.3,20.35],[82.5,21.2],[83.9,21.4],[85.1,21.0],[86.6,19.95],[88.4,19.25],[90,19.05],[92,19.4],[95,19.8],[98,20.0],[101,20.1],[105,20.2]],
  [[45,20.5],[70,20.5],[74,20.35],[77,20.55],[79.5,21.05],[82.2,21.6],[83.5,21.7],[85,21.3],[86.8,20.3],[88.8,19.5],[90.5,19.3],[93,19.6],[96,19.9],[99,20.15],[102,20.35],[105,20.5]],
  [[45,20.8],[70,20.78],[74.3,20.5],[77,20.85],[79.6,21.5],[82.7,21.95],[84,21.85],[85.4,21.5],[87.2,20.3],[89.4,19.4],[91.2,19.2],[94,19.5],[97.3,19.8],[100,20.1],[102.5,20.4],[105,20.7]],
  [[45,23.62],[55,23.6],[62,23.63],[66,23.62],[69.9,23.62],[71,23.7],[72.1,24.3],[73.5,24.75],[75.2,24.5],[76.5,24.2],[77.8,24.25],[79.6,24.45],[81.4,24.1],[82.7,23.85],[84.5,24.2],[86.1,24.35],[87.6,23.5],[89.6,22.55],[91.6,22.85],[93.8,22.95],[96,23.4],[97,23.55],[99.1,23.3],[100.9,23.25],[102.7,23.55],[105,24.3]],
  [[45,25.75],[47.3,25.5],[50,25.6],[53.5,25.7],[57,25.6],[59.5,25.7],[62.8,25.45],[64.6,26.2],[65.9,26.85],[67.3,26.5],[69,26.2],[70.8,26.25],[72.6,26.25],[74.3,25.85],[76.5,25.6],[78.3,25.6],[79.6,25.5],[81.4,25.75],[83.2,25.85],[85.4,25.6],[87.2,25.3],[88.9,25.2],[91.2,25.35],[93.8,25.3],[96,25.2],[98.2,25.4],[100,25.25],[102.7,25.6],[105,25.9]],
  [[45,26.2],[50,26.2],[55,26.22],[59,26.2],[61.5,26.05],[63.5,26.6],[65.9,27.45],[68.1,27.0],[70.8,26.95],[73,27.0],[75.2,26.8],[77.9,26.5],[79.6,26.3],[81.4,26.05],[83.2,25.95],[84.8,26.1],[86.5,26.45],[88,26.3],[89.5,25.8],[91,25.35],[93,25.3],[95,25.35],[97,25.5],[99,25.3],[101,25.5],[103,25.95],[105,26.45]],
  [[45,28.32],[50,28.33],[53,28.35],[56.2,28.35],[57.5,28.7],[59.3,29.2],[61.9,28.8],[64.2,28.6],[66.4,28.6],[69.9,28.4],[73,28.2],[77.4,28.25],[81.9,28.3],[84,28.35],[86.3,28.7],[88.1,28.3],[89.4,27.25],[90.7,27.7],[92,28.7],[93.4,28.8],[95.6,28.3],[97.3,28.35],[99.6,28.5],[101.8,28.3],[103.5,28.3],[105,28.5]],
  [[45,29.38],[48.7,29.3],[51,29.33],[54,29.35],[55.8,29.8],[57.1,30.65],[58.4,30.6],[60.2,30.35],[61.9,29.9],[64.2,29.75],[66.4,29.7],[69.9,29.55],[73,29.45],[76.5,29.4],[77.9,29.3],[79.6,29.5],[80.5,29.6],[84.1,29.55],[86.3,29.6],[88.1,29.8],[89.8,29.6],[93,29.6],[96.5,29.6],[97.8,29.25],[100,29.25],[102.3,29.35],[103.5,29.3],[105,29.05]],
  [[45,31.5],[48.2,31.55],[49.6,31.9],[51.1,32.78],[53.1,32.3],[54.9,31.85],[56.6,31.45],[58.4,31.65],[61.9,31.55],[64.2,31.45],[66.4,31.5],[68.1,31.6],[69.5,31.8],[72.1,31.6],[75.2,31.55],[77.9,31.5],[79.6,31.6],[84.1,31.6],[88.5,31.6],[92.9,31.6],[97.3,31.65],[101,31.6],[105,31.6]]
];

const chart = echarts.init(document.getElementById('chart'));

const FONT = '"Noto Sans", "Open Sans", sans-serif';
const COLOR = { g: '#2828ee', syn: '#c42ca6', data: '#38e638' };
const INK = '#1c1c1c';

function traceSeries(name, traces, panel, color) {
  return traces.map((pts, i) => ({
    type: 'line',
    name,
    id: 'p' + panel + '-' + name + '-' + stations[i],
    xAxisIndex: panel * 2,
    yAxisIndex: panel * 2,
    data: pts,
    symbol: 'none',
    smooth: 0.4,
    smoothMonotone: 'x',
    lineStyle: { color, width: 1.8 },
    itemStyle: { color },
    silent: true,
    animation: false
  }));
}

const axisLine = { show: true, onZero: false, lineStyle: { color: INK, width: 2 } };
const axisTick = { show: true, length: 7, lineStyle: { color: INK, width: 1.5 } };

function xAxes(gi, min, max) {
  const base = {
    gridIndex: gi, type: 'value', min, max, splitNumber: 6,
    minInterval: 10, maxInterval: 10,
    axisLine, axisTick, splitLine: { show: false }
  };
  return [
    Object.assign({}, base, {
      position: 'bottom',
      axisLabel: {
        color: '#222', fontSize: 18, fontFamily: FONT, margin: 9,
        formatter: v => (xTicks.includes(Math.round(v * 1000) / 1000) ? String(v) : '')
      }
    }),
    Object.assign({}, base, { position: 'top', axisLabel: { show: false } })
  ];
}

function yAxes(gi, min) {
  const base = {
    gridIndex: gi, type: 'value', inverse: true, min, max: 34, splitNumber: 25,
    minInterval: 1, maxInterval: 1,
    axisLine, axisTick, splitLine: { show: false }
  };
  return [
    Object.assign({}, base, {
      position: 'left',
      axisLabel: {
        color: '#222', fontSize: 18, fontFamily: FONT, margin: 11,
        formatter: v => (Number.isInteger(Math.round(v * 1000) / 1000) ? String(Math.round(v)) : '')
      }
    }),
    Object.assign({}, base, { position: 'right', axisLabel: { show: false } })
  ];
}

function legendFor(left, top, synName) {
  return {
    left, top, orient: 'vertical', padding: 0, itemGap: 0,
    itemWidth: 0, itemHeight: 0, icon: 'rect',
    textStyle: { fontSize: 24, fontFamily: FONT, lineHeight: 30 },
    data: [
      { name: 'contour_g', textStyle: { color: COLOR.g } },
      { name: synName, textStyle: { color: COLOR.syn } },
      { name: 'data', textStyle: { color: COLOR.data } }
    ]
  };
}

function label(x, y, text, font, rotation) {
  return {
    type: 'text', x, y, rotation: rotation || 0, silent: true,
    style: {
      text, font, fill: '#111',
      align: 'center', verticalAlign: 'middle',
      textAlign: 'center', textVerticalAlign: 'middle'
    }
  };
}

const option = {
  backgroundColor: '#fff',
  animation: false,
  grid: [
    { left: 88, top: 69, width: 532, height: 760 },
    { left: 674, top: 63, width: 538, height: 764 }
  ],
  xAxis: [...xAxes(0, 45.3, 104.8), ...xAxes(1, 45, 105)],
  yAxis: [...yAxes(0, 9.53), ...yAxes(1, 9.5)],
  legend: [legendFor(473, 91, 'contour_gld'), legendFor(1030, 87, 'contour_gd720')],
  graphic: [
    label(33, 36, '(a)', '28px "Liberation Serif", serif'),
    label(682, 36, '(b)', '28px "Liberation Serif", serif'),
    label(362, 36, '2003208:contour_gld', '31px ' + FONT),
    label(955, 33, '2003208:contour_gd720', '31px ' + FONT),
    label(360, 884, 't-d*18(s)', '37px ' + FONT),
    label(958, 884, 't-d*18(s)', '37px ' + FONT),
    label(21, 330, 'distance(degree)', '35px ' + FONT, -Math.PI / 2)
  ],
  series: [
    ...traceSeries('contour_gld', contourGld, 0, COLOR.syn),
    ...traceSeries('contour_g', contourG, 0, COLOR.g),
    ...traceSeries('data', dataTraces, 0, COLOR.data),
    ...traceSeries('contour_gd720', contourGd720, 1, COLOR.syn),
    ...traceSeries('contour_g', contourG, 1, COLOR.g),
    ...traceSeries('data', dataTraces, 1, COLOR.data)
  ]
};

chart.setOption(option);
window.addEventListener('resize', () => chart.resize());
</script>
</body>
</html>
